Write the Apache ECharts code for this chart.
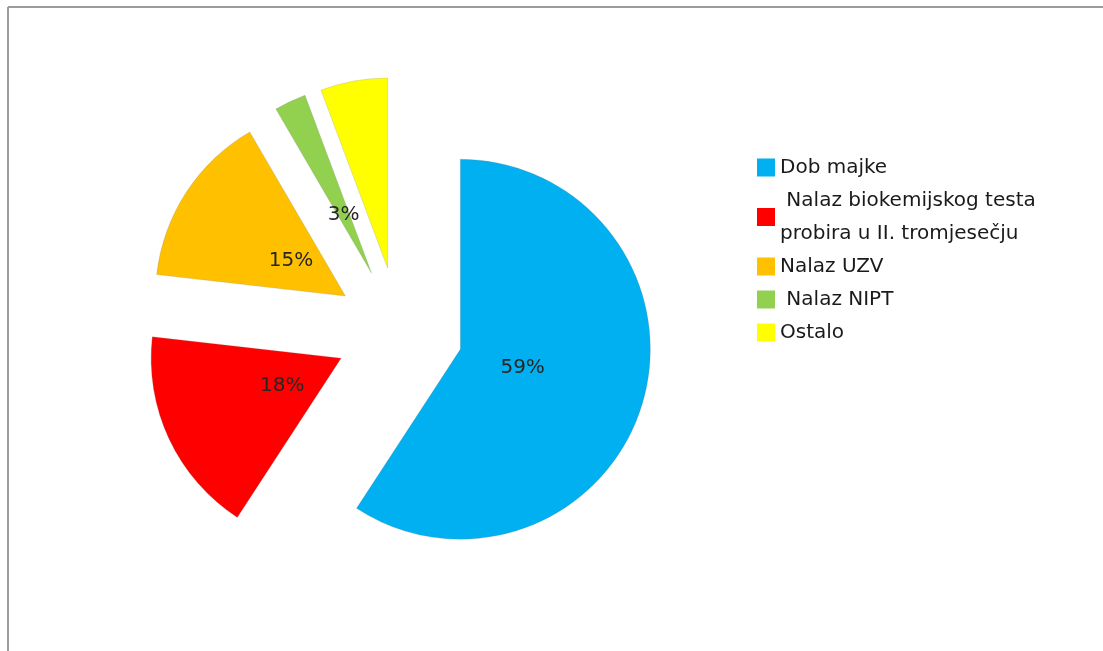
<!DOCTYPE html>
<html>
<head>
<meta charset="utf-8">
<script src="https://cdn.jsdelivr.net/npm/echarts@6/dist/echarts.min.js"></script>
<style>
html,body{margin:0;padding:0;background:#fff;}
#chart{width:1103px;height:651px;}
</style>
</head>
<body>
<div id="chart"></div>
<script>
const categories = ['Dob majke', ' Nalaz biokemijskog testa\nprobira u II. tromjesečju', 'Nalaz UZV', ' Nalaz NIPT', 'Ostalo'];
const values = [59.2, 17.6, 14.8, 2.7, 5.7];
const colors = ['#00B0F0', '#FF0000', '#FFC000', '#92D050', '#FFFF00'];

const chart = echarts.init(document.getElementById('chart'), null, {renderer: 'canvas'});

const mainData = categories.map((n, i) => ({name: n, value: values[i], selected: true, itemStyle: {color: colors[i]}}));
const labelData = categories.map((n, i) => ({name: n, value: values[i], selected: true}));

chart.setOption({
  animation: false,
  graphic: [
    {type: 'line', shape: {x1: 8, y1: 7, x2: 1103, y2: 7}, style: {stroke: '#9c9c9c', lineWidth: 2}, silent: true},
    {type: 'line', shape: {x1: 8, y1: 7, x2: 8, y2: 651}, style: {stroke: '#9c9c9c', lineWidth: 2}, silent: true}
  ],
  legend: {
    orient: 'vertical',
    left: 752,
    top: 146,
    itemWidth: 18,
    itemHeight: 18,
    itemGap: 0,
    icon: 'rect',
    selectedMode: false,
    itemStyle: {borderWidth: 0},
    textStyle: {fontFamily: 'DejaVu Sans', fontSize: 20, color: '#1a1a1a', lineHeight: 33},
    data: categories.map((n, i) => ({name: n, itemStyle: {color: colors[i], borderWidth: 0}}))
  },
  series: [
    {
      type: 'pie',
      center: [399, 331],
      radius: [0, 190],
      startAngle: 90,
      clockwise: true,
      selectedMode: 'multiple',
      selectedOffset: 64,
      avoidLabelOverlap: false,
      label: {show: false},
      labelLine: {show: false},
      emphasis: {scale: false, disabled: true},
      select: {itemStyle: {}},
      itemStyle: {borderWidth: 0.6, borderColor: 'rgba(120,120,120,0.35)'},
      data: mainData
    },
    {
      type: 'pie',
      center: [399, 331],
      radius: [0, 124],
      startAngle: 90,
      clockwise: true,
      selectedMode: 'multiple',
      selectedOffset: 64,
      silent: true,
      avoidLabelOverlap: false,
      emphasis: {scale: false, disabled: true},
      itemStyle: {color: 'rgba(0,0,0,0)', borderWidth: 0},
      label: {
        show: true,
        position: 'inside',
        formatter: p => Math.round(p.value) + '%',
        fontFamily: 'DejaVu Sans',
        fontSize: 20,
        color: '#262626'
      },
      labelLine: {show: false},
      data: labelData
    }
  ]
});
</script>
</body>
</html>
